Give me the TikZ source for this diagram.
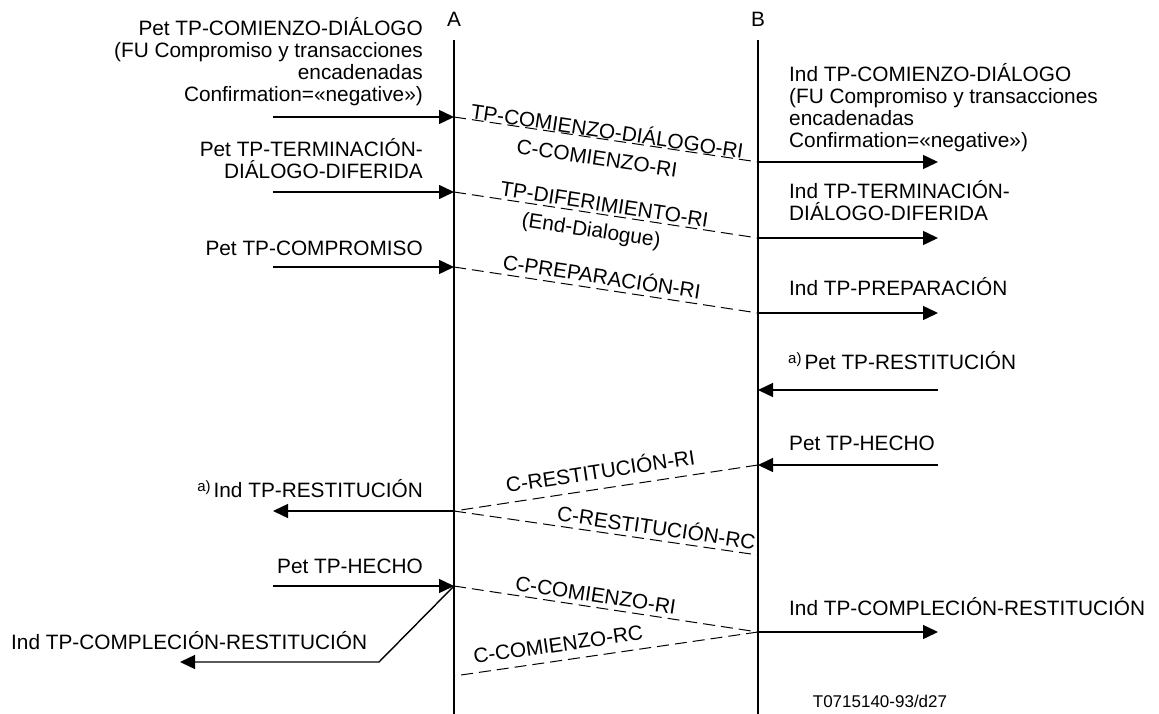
\documentclass[tikz,border=0pt]{standalone}
\usepackage{fontspec}
\setmainfont{Liberation Sans}
\usetikzlibrary{arrows.meta}
% multi-line text blocks with a fixed 22pt line pitch; baseline = first line
\newcommand\linesR[1]{\vtop{\baselineskip=22pt\lineskiplimit=-50pt\lineskip=0pt\halign{\hfil##\cr#1\crcr}}}
\newcommand\linesL[1]{\vtop{\baselineskip=22pt\lineskiplimit=-50pt\lineskip=0pt\halign{##\hfil\cr#1\crcr}}}
% raised footnote mark
\newcommand\notea{\raisebox{6pt}{\fontsize{15}{15}\selectfont a)}\kern3pt}
\begin{document}
\begin{tikzpicture}[x=1pt,y=-1pt,
  every node/.style={inner sep=0pt, font=\fontsize{20.8}{22}\selectfont},
  life/.style={line width=1.6pt},
  msg/.style={line width=1.4pt, -{Triangle[length=15pt,width=14pt]}},
  pdu/.style={line width=1pt, dash pattern=on 12pt off 6pt},
  lbl/.style={sloped, anchor=base}]
\useasboundingbox (0,0) rectangle (1159,714);

% lifelines
\node[anchor=base] (A) at (454,27) {A};
\node[anchor=base] (B) at (758,27) {B};
\coordinate (Atop) at (454,40); \coordinate (Abot) at (454,714);
\coordinate (Btop) at (758,40); \coordinate (Bbot) at (758,714);
\draw[life] (Atop) -- (Abot);
\draw[life] (Btop) -- (Bbot);

% event points on the lifelines and free arrow ends
\coordinate (a1) at (454,117); \coordinate (b1) at (758,162);
\coordinate (l1) at (273,117); \coordinate (r1) at (938,162);
\coordinate (a2) at (454,192); \coordinate (b2) at (758,238);
\coordinate (l2) at (273,192); \coordinate (r2) at (938,238);
\coordinate (a3) at (454,267); \coordinate (b3) at (758,313);
\coordinate (l3) at (273,267); \coordinate (r3) at (938,313);
\coordinate (b4) at (758,390); \coordinate (r4) at (938,390);
\coordinate (b5) at (758,465); \coordinate (r5) at (938,465);
\coordinate (a5) at (454,511); \coordinate (l5) at (273,511);
\coordinate (b6) at (758,555);
\coordinate (a6) at (454,586); \coordinate (l6) at (273,586);
\coordinate (b7) at (758,632); \coordinate (r7) at (938,632);
\coordinate (a7) at (454,676);
\coordinate (bend) at (379,662); \coordinate (l7) at (180,662);

% begin dialogue
\draw[msg] (l1) -- (a1);
\draw[pdu] (a1) -- (b1)
  node[lbl,pos=.5,yshift=1pt]{TP-COMIENZO-DIÁLOGO-RI}
  node[lbl,pos=.48,yshift=-27pt]{C-COMIENZO-RI};
\draw[msg] (b1) -- (r1);
\node[anchor=base east] (t1) at (423,36) {\linesR{Pet TP-COMIENZO-DIÁLOGO\cr(FU Compromiso y transacciones\cr encadenadas\cr Confirmation=«negative»)}};
\node[anchor=base west] (t2) at (789,82) {\linesL{Ind TP-COMIENZO-DIÁLOGO\cr(FU Compromiso y transacciones\cr encadenadas\cr Confirmation=«negative»)}};

% deferred end of dialogue
\draw[msg] (l2) -- (a2);
\draw[pdu] (a2) -- (b2)
  node[lbl,pos=.49,yshift=3pt]{TP-DIFERIMIENTO-RI}
  node[lbl,pos=.46,yshift=-24pt]{(End-Dialogue)};
\draw[msg] (b2) -- (r2);
\node[anchor=base east] (t3) at (423,157) {\linesR{Pet TP-TERMINACIÓN-\cr DIÁLOGO-DIFERIDA}};
\node[anchor=base west] (t4) at (789,199) {\linesL{Ind TP-TERMINACIÓN-\cr DIÁLOGO-DIFERIDA}};

% commitment
\draw[msg] (l3) -- (a3);
\draw[pdu] (a3) -- (b3)
  node[lbl,pos=.48,yshift=5pt]{C-PREPARACIÓN-RI};
\draw[msg] (b3) -- (r3);
\node[anchor=base east] (t5) at (423,255) {Pet TP-COMPROMISO};
\node[anchor=base west] (t6) at (789,295) {Ind TP-PREPARACIÓN};

% rollback
\draw[msg] (r4) -- (b4);
\node[anchor=base west] (t7) at (788,369) {\notea Pet TP-RESTITUCIÓN};
\draw[msg] (r5) -- (b5);
\node[anchor=base west] (t8) at (789,450) {Pet TP-HECHO};
\draw[pdu] (b5) -- (a5)
  node[lbl,pos=.51,yshift=10pt]{C-RESTITUCIÓN-RI};
\draw[msg] (a5) -- (l5);
\node[anchor=base east] (t9) at (423,497) {\notea Ind TP-RESTITUCIÓN};
\draw[pdu] (a5) -- (b6)
  node[lbl,pos=.66,yshift=5pt]{C-RESTITUCIÓN-RC};

% rollback completion
\draw[msg] (l6) -- (a6);
\node[anchor=base east] (t10) at (423,573) {Pet TP-HECHO};
\draw[pdu] (a6) -- (b7)
  node[lbl,pos=.46,yshift=5pt]{C-COMIENZO-RI};
\draw[msg] (b7) -- (r7);
\node[anchor=base west] (t11) at (789,615) {Ind TP-COMPLECIÓN-RESTITUCIÓN};
\draw[pdu] (b7) -- (a7)
  node[lbl,pos=.65,yshift=9pt]{C-COMIENZO-RC};
\draw[msg] (a6) -- (bend) -- (l7);
\node[anchor=base west] (t12) at (11,649) {Ind TP-COMPLECIÓN-RESTITUCIÓN};

\node[anchor=base, font=\fontsize{17}{17}\selectfont] (fig) at (880,707) {T0715140-93/d27};
\end{tikzpicture}
\end{document}
